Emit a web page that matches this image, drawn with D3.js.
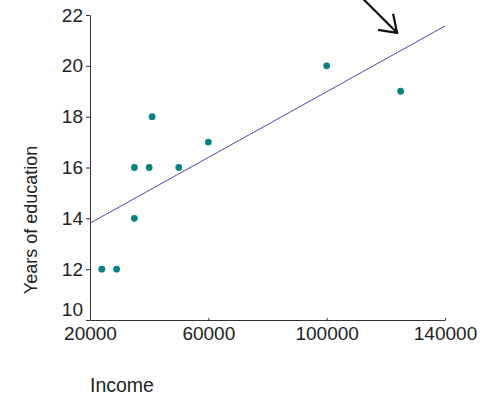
<!DOCTYPE html>
<html>
<head>
<meta charset="utf-8">
<script src="https://cdn.jsdelivr.net/npm/d3@7"></script>
<style>
  body { margin: 0; background: #fff; }
  svg text { font-family: "Liberation Sans", Arial, sans-serif; fill: #222; }
</style>
</head>
<body>
<svg id="chart" width="493" height="396"></svg>
<script>
// income (dollars) vs years of education
const income = [24000, 29000, 35000, 35000, 40000, 41000, 50000, 60000, 100000, 125000];
const years = [12, 12, 14, 16, 16, 18, 16, 17, 20, 19];
const xTicks = [20000, 60000, 100000, 140000];
const yTicks = [10, 12, 14, 16, 18, 20, 22];
const arrowTip = [123800, 21.3]; // where the arrow points, in data units

const width = 493,
    height = 396,
    margin = { top: 15, right: 48, bottom: 76, left: 90 };

const svg = d3.select('#chart');

const x = d3.scaleLinear()
    .domain([20000, 140000])
    .range([margin.left, width - margin.right]);

const y = d3.scaleLinear()
    .domain([10, 22])
    .range([height - margin.bottom, margin.top]);

// least squares fit for the trend line
const mx = d3.mean(income),
    my = d3.mean(years);
let sxy = 0, sxx = 0;
income.forEach((v, i) => {
    sxy += (v - mx) * (years[i] - my);
    sxx += (v - mx) * (v - mx);
});
const slope = sxy / sxx,
    intercept = my - slope * mx;

// axes
const yAxis = svg.append('g')
    .attr('transform', `translate(${margin.left},0)`)
    .call(d3.axisLeft(y)
        .tickValues(yTicks)
        .tickFormat(d3.format('d'))
        .tickSizeInner(4)
        .tickSizeOuter(0)
        .tickPadding(3));

const xAxis = svg.append('g')
    .attr('transform', `translate(0,${height - margin.bottom})`)
    .call(d3.axisBottom(x)
        .tickValues(xTicks)
        .tickFormat(d3.format('d'))
        .tickSizeInner(-2)
        .tickSizeOuter(0)
        .tickPadding(7));

svg.selectAll('.domain, .tick line').attr('stroke', '#333');
yAxis.selectAll('text').style('font-size', '19px').attr('fill', '#222');
xAxis.selectAll('text').style('font-size', '19px').attr('fill', '#222');

// the lowest y label sits a bit higher so it clears the x labels
yAxis.selectAll('.tick text')
    .filter(d => d === yTicks[0])
    .attr('y', -11);

// trend line
const xd = x.domain();
svg.append('line')
    .attr('x1', x(xd[0]))
    .attr('y1', y(intercept + slope * xd[0]))
    .attr('x2', x(xd[1]))
    .attr('y2', y(intercept + slope * xd[1]))
    .attr('stroke', '#4a4aa6')
    .attr('stroke-width', 1);

// points
svg.append('g')
    .selectAll('circle')
    .data(income)
    .join('circle')
    .attr('cx', d => x(d))
    .attr('cy', (d, i) => y(years[i]))
    .attr('r', 3.4)
    .attr('fill', '#0a8282');

// axis titles
svg.append('text')
    .attr('x', margin.left)
    .attr('y', 392)
    .style('font-size', '19.5px')
    .text('Income');

svg.append('text')
    .attr('transform', 'translate(37,220) rotate(-90)')
    .attr('text-anchor', 'middle')
    .style('font-size', '18px')
    .text('Years of education');

// arrow pointing at the line
const tx = x(arrowTip[0]),
    ty = y(arrowTip[1]);
svg.append('path')
    .attr('d', `M${tx - 36},${ty - 36}L${tx},${ty}M${tx - 19},${ty - 3}L${tx},${ty}L${tx - 4},${ty - 19}`)
    .attr('fill', 'none')
    .attr('stroke', '#111')
    .attr('stroke-width', 2.2);
</script>
</body>
</html>
